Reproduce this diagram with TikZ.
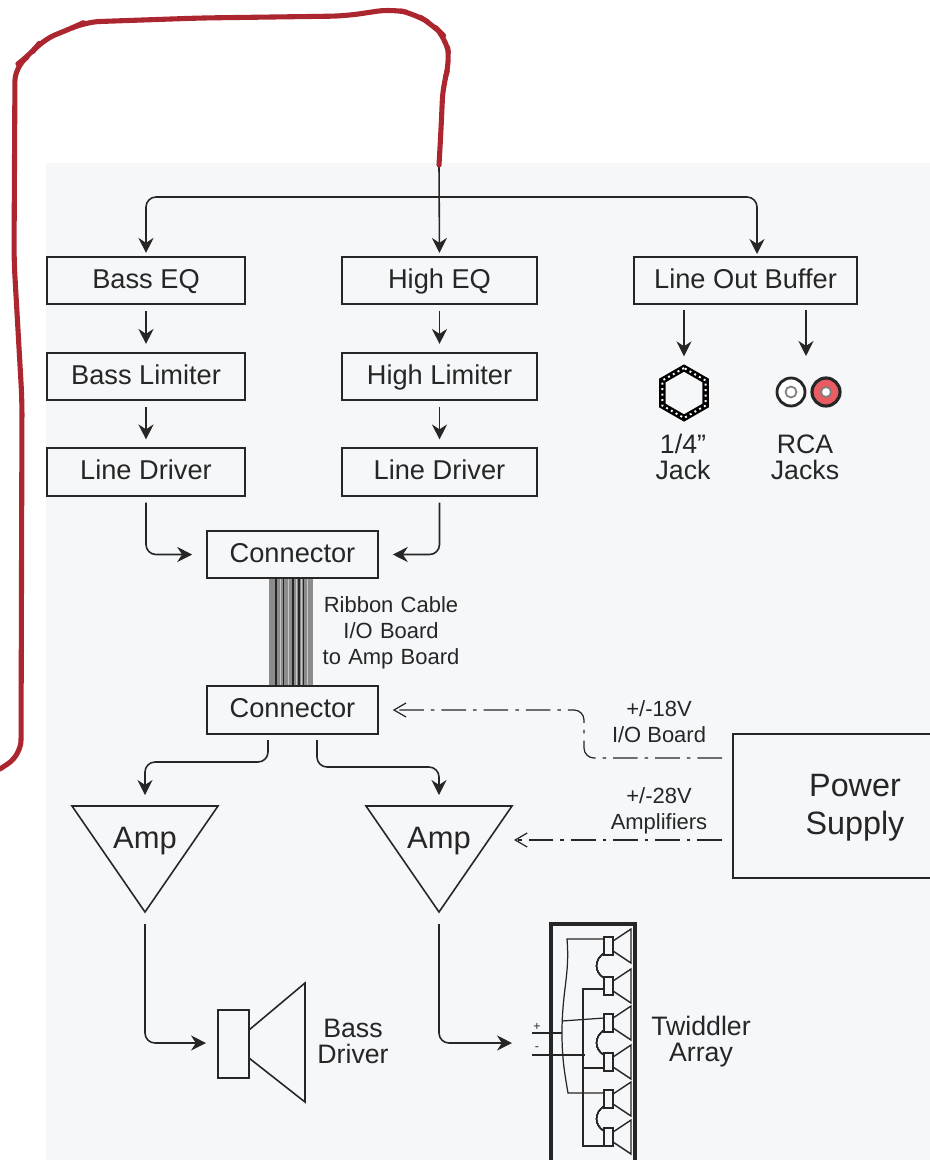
\documentclass[tikz,border=0pt]{standalone}
\usepackage{fontspec}
\setmainfont{Liberation Sans}
\usetikzlibrary{arrows.meta,shapes.geometric}
\definecolor{panelgray}{RGB}{245,247,249}
\definecolor{inkgray}{RGB}{38,38,38}
\definecolor{markerred}{RGB}{172,38,48}
\definecolor{jackred}{RGB}{232,92,100}
\tikzset{
  blockbox/.style={draw=inkgray,line width=0.9pt,text=inkgray,font=\fontsize{15.5}{18}\selectfont,
    minimum height=0.95cm,inner sep=0pt,text height=0.4cm,text depth=0.09cm},
  smalltext/.style={text=inkgray,font=\fontsize{12.5}{14.8}\selectfont,align=center,inner sep=0pt},
  bigtext/.style={text=inkgray,font=\fontsize{15.2}{14.8}\selectfont,align=center,inner sep=0pt},
  signal/.style={draw=inkgray,line width=0.9pt,rounded corners=0.2cm,shorten <=0.12cm,shorten >=0.16cm,
    -{Stealth[length=0.3cm,width=0.3cm]}},
  supply/.style={draw=inkgray,line width=0.7pt,rounded corners=0.2cm,dash pattern=on 14pt off 4pt on 2pt off 4pt,
    shorten >=0.14cm,-{Straight Barb[length=0.24cm,width=0.28cm]}},
  thinwire/.style={draw=inkgray,line width=0.7pt},
}
\newcommand{\ampsym}[3]{\draw[inkgray,line width=0.9pt] (#2-73,806) -- ++(146,0) -- ++(-73,106) -- cycle;
  \node[text=inkgray,font=\fontsize{17.6}{20}\selectfont,inner sep=0pt] (#1) at (#2,#3) {Amp};
  \coordinate (#1top) at (#2,803);
  \coordinate (#1tip) at (#2,918);}
\newcommand{\tweeter}[1]{\draw[inkgray,line width=0.9pt] (604,#1-9) rectangle (613,#1+9);
  \draw[inkgray,line width=0.8pt] (613,#1-5) -- (631,#1-17) -- (631,#1+17) -- (613,#1+5);}
\begin{document}
\begin{tikzpicture}[x=0.02cm,y=-0.02cm]
\useasboundingbox (0,0) rectangle (930,1160);
\fill[panelgray] (46,163) rectangle (930,1160);

\node[blockbox,minimum width=3.96cm] (bassEQ) at (146,280.5) {Bass EQ};
\node[blockbox,minimum width=3.9cm] (highEQ) at (439.5,280.5) {High EQ};
\node[blockbox,minimum width=4.46cm] (lineOut) at (745.5,280.5) {Line Out Buffer};
\node[blockbox,minimum width=3.96cm] (bassLim) at (146,376.5) {Bass Limiter};
\node[blockbox,minimum width=3.9cm] (highLim) at (439.5,376.5) {High Limiter};
\node[blockbox,minimum width=3.96cm] (bassDrv) at (146,472) {Line Driver};
\node[blockbox,minimum width=3.9cm] (highDrv) at (439.5,472) {Line Driver};
\fill[gray!90] (269,578) rectangle (313,686);
\foreach \x/\w in {275/2.4,283/1.2,292/1.6,298/1.8,303/1.2}
  \fill[inkgray] (\x,578) rectangle (\x+\w,686);
\foreach \x in {280,288,296,301,307}
  \fill[gray!45] (\x,578) rectangle (\x+1,686);
\node[blockbox,minimum width=3.42cm] (conTop) at (292.5,554.5) {Connector};
\node[blockbox,minimum width=3.42cm] (conBot) at (292.5,710) {Connector};
\node[draw=inkgray,line width=0.9pt,minimum width=4.04cm,minimum height=2.88cm,inner sep=0pt] (power) at (834,806) {};
\node[text=inkgray,font=\fontsize{18.4}{21.6}\selectfont,align=center,inner sep=0pt] (powerText) at (855,808) {Power\\Supply};

\ampsym{ampBass}{145}{841}
\ampsym{ampHigh}{439}{841}

\node[regular polygon,regular polygon sides=6,regular polygon rotate=30,minimum size=1cm,inner sep=0pt,
  draw=black,line width=3.6pt] (quarterJack) at (684,393) {};
\node[regular polygon,regular polygon sides=6,regular polygon rotate=30,minimum size=1cm,inner sep=0pt,
  draw=white,line width=1.1pt,dotted] at (684,393) {};
\node[circle,draw=inkgray,line width=1.6pt,fill=white,minimum size=0.56cm,inner sep=0pt] (rcaWhite) at (791,392) {};
\node[circle,draw=gray,line width=1pt,fill=white,minimum size=0.22cm,inner sep=0pt] at (791,392) {};
\node[circle,draw=black!85,line width=1.8pt,fill=jackred,minimum size=0.56cm,inner sep=0pt] (rcaRed) at (826,392) {};
\node[circle,draw=gray,line width=1pt,fill=white,minimum size=0.2cm,inner sep=0pt] at (826,392) {};

\node[bigtext] at (683,457) {1/4"\\Jack};
\node[bigtext] at (805,457) {RCA\\Jacks};
\node[smalltext,text width=3cm] at (391,633) {Ribbon Cable\\I/O Board\\to Amp Board};
\node[smalltext] at (659,722) {+/-18V\\I/O Board};
\node[smalltext] at (659,811) {+/-28V\\Amplifiers};
\node[bigtext] at (353,1041) {Bass\\Driver};
\node[bigtext] at (701,1042) {Twiddler\\Array};

% top feed
\coordinate (feedTop) at (439,165);
\coordinate (feedSplit) at (439,197);
\coordinate (lineOutIn) at (757,257);
\draw[signal,shorten <=0pt,shorten >=0.06cm] (feedSplit) -| (bassEQ.north);
\draw[signal,shorten <=0pt,shorten >=0.06cm] (feedSplit) -| (lineOutIn);
\draw[signal,shorten <=0pt,shorten >=0.06cm] (feedTop) -- (highEQ.north);

\draw[signal] (bassEQ) -- (bassLim);
\draw[signal] (bassLim) -- (bassDrv);
\draw[signal] (highEQ) -- (highLim);
\draw[signal] (highLim) -- (highDrv);
\draw[signal,shorten >=0.28cm] (bassDrv) |- (conTop);
\draw[signal,shorten >=0.28cm] (highDrv) |- (conTop);

\coordinate (jackOut) at (684,304);
\coordinate (rcaOut) at (806,304);
\coordinate (rcaIn) at (806,364);
\draw[signal] (jackOut) -- (quarterJack);
\draw[signal] (rcaOut) -- (rcaIn);

\coordinate (conBotA) at (268,734);
\coordinate (conBotB) at (317,734);
\draw[signal] (conBotA) |- (207,762) -| (ampBasstop);
\draw[signal] (conBotB) |- (380,767) -| (ampHightop);

\coordinate (ioOut) at (722,758);
\coordinate (ampOut) at (722,840);
\coordinate (ampIn) at (507,840);
\draw[supply,shorten >=0.28cm] (ioOut) -- (584,758) -- (584,710) -- (conBot);
\draw[supply] (ampOut) -- (ampIn);

% bass driver
\draw[inkgray,line width=0.9pt] (218,1010) rectangle (249,1078);
\draw[inkgray,line width=0.9pt] (249,1030) -- (305,983) -- (305,1102) -- (249,1058);
\coordinate (bassIn) at (212,1043);
\draw[signal,shorten >=0.12cm] (ampBasstip) |- (bassIn);

% tweeter column
\draw[black!85,line width=2pt] (551,1162) -- (551,924) -- (635,924) -- (635,1162);
\foreach \y in {946,986,1023,1062,1099,1137} \tweeter{\y}
\foreach \y in {946,1023,1099}
  \draw[thinwire] (604,\y+7) .. controls (594,\y+14) and (594,\y+26) .. (604,\y+32);
\draw[thinwire] (604,939) -- (567,939) .. controls (570,975) and (562,990) .. (562,1033)
  .. controls (562,1060) and (565,1075) .. (568,1093) -- (604,1093);
\draw[thinwire] (562,1021) -- (604,1018);
\draw[thinwire] (604,989) -- (583,989) -- (583,1146) -- (604,1146);
\draw[thinwire] (583,1068) -- (604,1068);
\draw[inkgray,line width=1pt] (532,1033) -- (562,1033);
\draw[inkgray,line width=1pt] (532,1055) -- (585,1055);
\node[text=inkgray,font=\scriptsize,inner sep=0pt] at (537,1027) {+};
\node[text=inkgray,font=\scriptsize,inner sep=0pt] at (537,1049) {-};
\coordinate (arrayIn) at (520,1043);
\draw[signal,shorten >=0.16cm] (ampHightip) |- (arrayIn);

% marker stroke
\draw[markerred,line width=2.9pt,line cap=round,line join=round,rounded corners=0.3cm]
  (feedTop) -- (441,130) -- (443,85) -- (450,62) -- (446,38) -- (433,25) -- (415,14) -- (392,9) -- (345,16)
  -- (200,18) -- (85,22) -- (70,29) -- (42,40) -- (30,55) -- (15,66) -- (14,260) -- (22,400) -- (21,755) -- (0,769);
\end{tikzpicture}
\end{document}
